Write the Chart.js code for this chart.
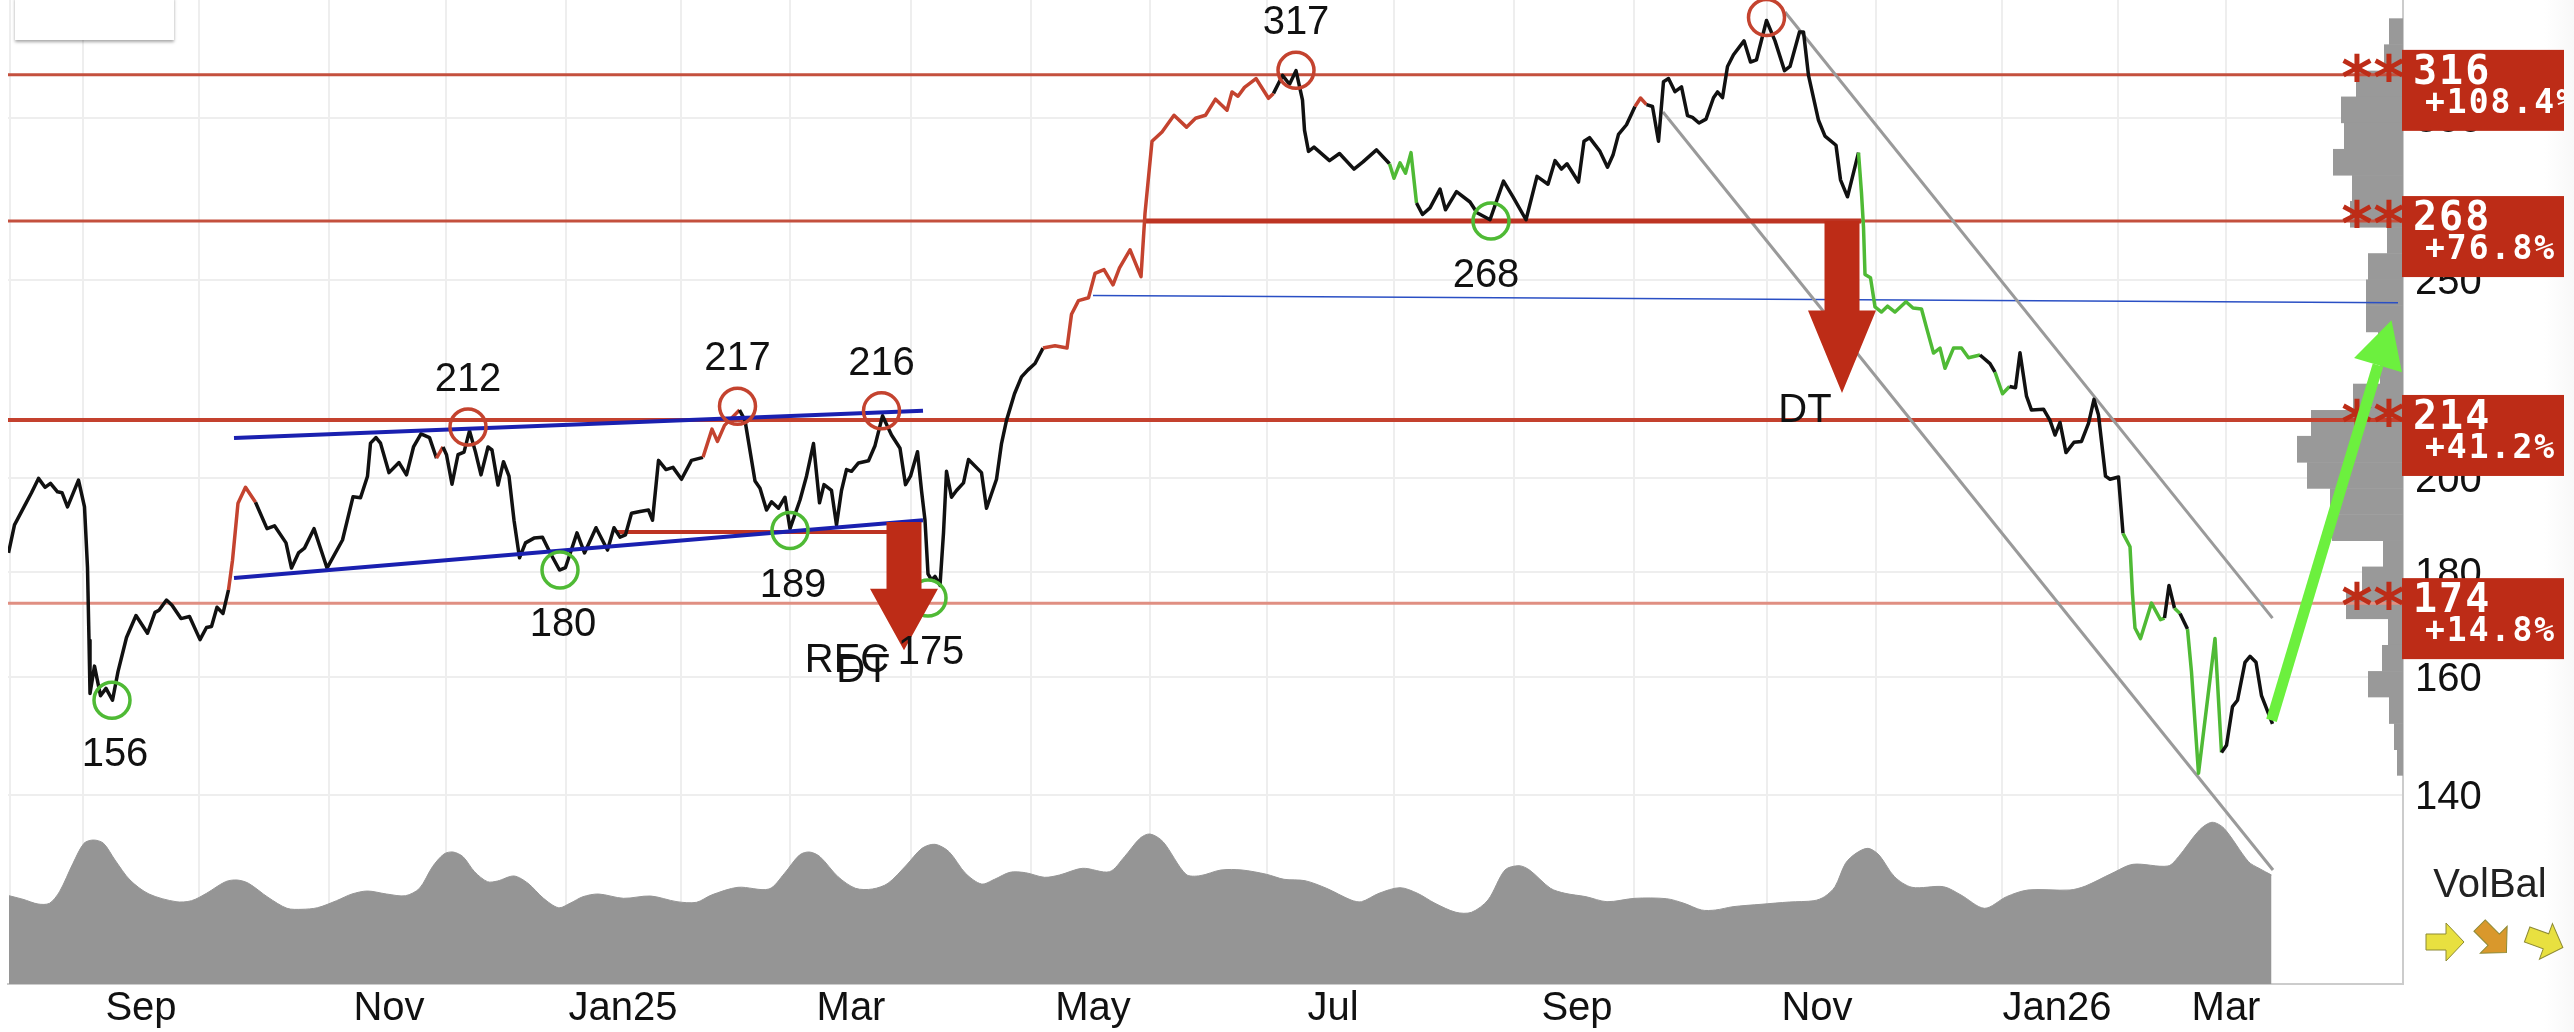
<!DOCTYPE html>
<html>
<head>
<meta charset="utf-8">
<title>Chart</title>
<script src="https://cdn.jsdelivr.net/npm/chart.js@4"></script>
<style>
    html, body { margin: 0; padding: 0; background: #fff; }
    #wrap { position: relative; width: 2574px; height: 1032px; overflow: hidden; }
    #shade { position: absolute; right: 0; top: 0; width: 30px; height: 1032px; background: linear-gradient(to right, #fff, #f8f8f8); }
    canvas { position: absolute; left: 0; top: 0; filter: blur(0.6px); }
    #infoBox { position: absolute; left: 15px; top: -3px; width: 159px; height: 43px; background: #fff; box-shadow: 0 2px 3px rgba(0,0,0,0.35); }
</style>
</head>
<body>
<div id="wrap">
    <div id="shade"></div>
    <canvas id="chart" width="2574" height="1032"></canvas>
    <div id="infoBox"></div>
</div>
<script>
// Price line, x in sessions since the left edge of the chart
const priceDays = [
    0.1, 1.3, 3.6, 4.7, 6.1, 7.4, 8.5, 9.9, 10.8, 11.9,
    14.1, 15.3, 15.9, 16.2, 16.4, 17.3, 18.5, 19.6, 20.9, 22,
    23.7, 25.6, 27.9, 29.4, 30.2, 31.7, 32.8, 34.6, 36.3, 38.4,
    39.7, 40.7, 41.8, 43, 44.1, 44.9, 46, 47.5, 49.5, 51.8,
    53.3, 55.6, 56.7, 58.1, 59.3, 61.2, 63.8, 66.9, 69, 70.5,
    71.9, 72.5, 73.6, 74.5, 76.2, 78.2, 79.7, 81.1, 82.6, 84.3,
    85.7, 87, 87.7, 88.8, 90, 91.2, 92.3, 93.5, 94.6, 96,
    96.8, 98, 99.1, 100.2, 101.2, 102.3, 103.5, 105.2, 106.9, 108.4,
    110.3, 111.5, 113.8, 115.3, 117.6, 119.9, 121.2, 122.4, 123.5, 124.7,
    126.4, 128.1, 128.9, 130.1, 131.6, 133, 134.7, 136.7, 139, 140.8,
    141.9, 143.3, 146.3, 147.4, 149.4, 150.4, 151.7, 152.7, 154.1, 155.4,
    156.4, 158.4, 159.7, 161.1, 162.3, 163.2, 164.7, 165.7, 166.7, 167.7,
    168.7, 170.1, 172.1, 173.4, 174.9, 176.7, 178.4, 179.5, 180.5, 181.9,
    182.7, 183.4, 184, 184.7, 185.4, 186.4, 187.1, 187.7, 188.7, 189.7,
    191.1, 192.1, 194.7, 195.7, 197.7, 198.7, 199.7, 201.3, 202.7, 204,
    205.4, 207, 209.4, 211.8, 212.7, 214.1, 216.1, 217.4, 219.2, 221,
    222.3, 224.4, 226.6, 227.4, 228.8, 230.8, 233.2, 235.7, 237.5, 239.5,
    241.5, 243.8, 244.8, 246, 247.3, 249.6, 252.1, 253.1, 254.9, 256.3,
    257.6, 258.9, 259.3, 260.1, 261.2, 264.3, 266.3, 269.2, 271, 273.7,
    276.3, 277.2, 278.4, 279.5, 280.6, 281.7, 282.9, 284.4, 286.4, 287.5,
    289.7, 292.4, 293.8, 296.4, 299.1, 301, 303.6, 305.8, 308, 309.4,
    310.7, 311.8, 314.1, 315.2, 316.3, 318.4, 319.9, 321, 322.1, 323.7,
    325.4, 326.5, 327.7, 328.9, 330.1, 331.1, 332.1, 333.4, 334.7, 335.9,
    336.9, 338.2, 339.6, 341.1, 341.9, 342.9, 343.9, 345.1, 347.2, 348.5,
    349.7, 351.7, 353.4, 355.3, 356.4, 358.3, 359.1, 360.1, 362.1, 363.4,
    365.6, 366.5, 367.9, 370.1, 370.7, 371.1, 371.4, 372.5, 373.4, 374.7,
    375.9, 377.4, 379.6, 381, 382.7, 383.7, 385.1, 386.4, 387.4, 389.1,
    390.7, 392.1, 394.4, 396.4, 397.4, 398.9, 400.3, 401.5, 402.4, 403.7,
    404.7, 407.1, 408.4, 409.4, 410.4, 411.6, 413.2, 414.7, 416.1, 417.2,
    418.1, 419.5, 420.4, 422.1, 423, 424.4, 424.9, 425.4, 426.5, 428.7,
    430.5, 431.3, 432.2, 433.3, 434.4, 435.9, 436.7, 438.1, 441.4, 442.7,
    443.7, 444.9, 445.9, 447.4, 448.4, 449.6, 450.7, 452.9
];
const priceValues = [
    183.9, 189.8, 194.5, 196.8, 200, 198, 198.9, 197, 196.8, 193.7,
    199.6, 193.7, 180.9, 166.7, 157, 161.9, 156.6, 157.9, 155.8, 160.9,
    167.2, 171.4, 168, 172, 172.4, 174.4, 173.4, 170.8, 171.2, 166.8,
    169.1, 169.3, 173, 171.8, 176.4, 182.4, 194.5, 198, 194.7, 189,
    189.6, 186, 180.8, 183.9, 184.9, 189, 180.8, 186.6, 195.9, 195.7,
    200.5, 208.1, 209.4, 208.1, 201.3, 203.6, 200.8, 207.2, 210.3, 209.4,
    204.6, 207.2, 205.4, 198.7, 205.4, 206, 211, 206, 200.8, 207.2,
    206.5, 198.5, 203.8, 200.5, 190.8, 182.9, 186, 187, 187.2, 184,
    180.4, 180.9, 188.1, 183.9, 189.2, 184.5, 189.2, 187.2, 187.7, 192.3,
    192.7, 193, 190.8, 204.1, 202, 202.5, 199.8, 204.1, 204.8, 211.4,
    208.5, 212.3, 216, 213.5, 199.4, 197.8, 193, 194.8, 193.4, 195.8,
    189, 195.2, 200.5, 208, 194.6, 198.6, 197.3, 189.8, 197.3, 202,
    201.6, 203.5, 204, 207.5, 214.6, 210, 206.9, 198.6, 200.5, 206.1,
    197.3, 190.8, 179.6, 178.4, 179.1, 177.3, 188.1, 201.6, 195.8, 197.3,
    199, 204.3, 201.3, 193.4, 199.8, 208, 213.5, 220, 224.2, 226,
    227.6, 231.6, 232.2, 231.6, 240.6, 244.3, 245.1, 251.9, 253, 248.7,
    253.5, 258.7, 251, 269.5, 292.3, 295.4, 301, 297, 300, 301,
    306.5, 302.7, 309, 307.5, 310.6, 313.7, 306.8, 308.5, 314.8, 311.7,
    316.5, 306.2, 296, 289, 290.4, 286, 288.3, 283.3, 285.6, 289.5,
    285, 280.4, 285.3, 282, 288.6, 272.7, 269.2, 271.2, 277, 270.6,
    276.2, 273, 269.7, 267.6, 279.5, 274.6, 267.6, 281, 278.5, 286,
    283.3, 285, 279.2, 292.3, 293.5, 289, 283.9, 287.8, 294.6, 297.8,
    304, 306.9, 304.6, 304, 292.3, 312.6, 313.7, 309.1, 310.8, 300.9,
    300.3, 298.4, 299.7, 307, 309, 307, 318, 322.2, 327.3, 319.6,
    320.4, 334.9, 327.3, 316.5, 318, 330.6, 330.6, 314.8, 299.3, 294,
    291, 279.9, 274.6, 288.6, 275.7, 265.4, 251.6, 250.7, 242.6, 241.2,
    242.8, 241.2, 244, 242.3, 242, 237, 230.3, 231.6, 226.4, 231.6,
    231.6, 229.1, 229.8, 227.6, 225.4, 220, 221.8, 221.5, 230.4, 219.4,
    216, 216.2, 213.5, 210, 213, 205.9, 208.3, 208.5, 212.8, 218.6,
    214.8, 200.5, 199.8, 200.3, 188, 185.2, 175.6, 169, 167, 173.8,
    170.6, 170.9, 177.3, 172.8, 171.8, 168.8, 160.8, 143.5, 167, 146.9,
    148.1, 154.7, 155.8, 162.6, 163.7, 162.6, 156.6, 151.7
];

// Stretches of the price line in signal colours [from, to]
const redRanges = [[44.1, 49.5], [85.7, 87], [139, 146.3], [207, 253.1], [325.4, 327.7]];
const greenRanges = [[276.3, 281.7], [370.1, 394.4], [397.4, 400.3], [423, 431.3], [433.3, 434.4], [435.9, 442.7]];

// Volume area at the bottom
const volumeDays = [
    0.2, 3, 6, 8.3, 10.3, 13, 15.2, 17.1, 19.1, 21.4, 24.4, 28.2, 33.6, 36.7, 39.7, 43.5, 45.8, 48.1, 52, 55.8,
    58.8, 61.9, 65.7, 68.8, 71.9, 75.7, 79.5, 82.3, 84.9, 87.2, 89, 91, 93.3, 95.9, 97.9, 101.2, 104, 107.1, 110.1, 112.4,
    115, 118.1, 123.1, 128.5, 133.8, 137.7, 140.7, 146, 152.2, 155.3, 158.3, 160.3, 162.4, 166, 169.5, 172.9, 176, 179.7, 182.8, 185.4,
    188.2, 191.5, 194.7, 197.3, 200.4, 203.5, 207.3, 210.3, 214.9, 220.3, 223.3, 226.4, 228.4, 231, 235.6, 238.4, 242.6, 246.8, 251.7, 255.2,
    259.4, 263.7, 268.6, 270.7, 274.2, 278.4, 281.9, 285.4, 289.6, 292.7, 296, 299.4, 302.2, 304.3, 308.5, 311.4, 315.6, 319.8, 325.4, 331.7,
    335.2, 338.7, 341.5, 345, 350.6, 356.3, 361.2, 363.3, 365.4, 367.5, 369.6, 372, 374.2, 377.3, 380.8, 387.1, 390.6, 395.3, 399.7, 404,
    412.4, 415.5, 420.8, 425, 432, 434.1, 438.3, 440.8, 443.2, 448.1, 450.2, 452.7
];
const volumeValues = [
    88.3, 84.7, 80, 80.7, 92.3, 120.7, 140.7, 144, 140.7, 124, 104, 90, 82.3, 83.3, 90.7, 102.3, 104, 100.7, 86.7, 75.7,
    74.7, 76.3, 83.3, 90, 93, 90, 88.3, 95.7, 117.3, 130, 132, 127.3, 112.3, 102.3, 103, 108, 100.7, 85.7, 76.3, 80.7,
    87.3, 90, 85.7, 88, 82.3, 81.7, 89, 96.7, 95, 110.7, 129, 132, 127.3, 107.3, 95.7, 95, 100.7, 119, 135.7, 139.7,
    132.3, 110.7, 100, 104.7, 111.7, 111.3, 106.7, 109, 115.7, 112.3, 127.3, 145.7, 150, 142.3, 109.7, 108.3, 114, 114, 109.7, 104.7,
    103.3, 95.7, 84, 82.3, 90.7, 96.3, 90.7, 80.7, 71.7, 71.7, 84, 114, 118.3, 114, 95.7, 90.7, 87.3, 82.3, 85.7, 85.3,
    80.7, 74, 74, 77.3, 79.7, 82, 83.3, 87.3, 97.3, 120.7, 130.7, 135.7, 129, 107.3, 96.7, 97.3, 89, 75.7, 87.3, 94,
    94, 98, 110.7, 119.7, 118, 127.3, 154, 161.7, 155.7, 122.3, 115.7, 109
];

// Volume profile on the right edge: price edges of the bins, one more than the bins
const profileEdges = [
    335.7, 326, 316.5, 307.4, 298.5, 289.8, 281.4, 273.3, 265.4, 257.7,
    250.2, 243, 235.9, 229.1, 222.5, 216, 209.8, 203.7, 197.8, 192.1,
    186.5, 181.1, 175.9, 170.8, 165.8, 161, 156.4, 151.8, 147.4, 143.2
];
const profileVolumes = [
    14, 19, 47, 62, 59, 70, 51, 53, 16, 35,
    37, 37, 25, 23, 50, 92, 106, 96, 73, 71,
    20, 41, 57, 15, 21, 35, 14, 9, 6
];

// Support and resistance levels
const levelValues = [315, 267.2, 213.6, 173.8];
const levelLabels = ['316', '268', '214', '174'];
const levelGains = ['+108.4%', '+76.8%', '+41.2%', '+14.8%'];

// Thick piece of the 268 level and the short break level at 189
const thickLevelDays = [227.4, 370.6];
const thickLevelValues = [267.2, 267.2];
const breakLevelDays = [121.8, 178];
const breakLevelValues = [188.3, 188.3];

// Trend lines, each [start, end]
const wedgeTopDays = [45.2, 183];
const wedgeTopValues = [209.3, 215.8];
const wedgeBottomDays = [45.2, 183];
const wedgeBottomValues = [178.8, 190.8];
const thinBlueDays = [217, 478];
const thinBlueValues = [245.7, 243.7];
const channelTopDays = [355.4, 452.9];
const channelTopValues = [338.1, 170.9];
const channelBottomDays = [331, 453];
const channelBottomValues = [302.1, 128.7];

// Circled tops and bottoms with their labels
const topDays = [92, 145.9, 174.7, 257.6, 351.7];
const topValues = [211.9, 216.9, 215.8, 316.6, 336];
const topLabels = ['212', '217', '216', '317', ''];
const bottomDays = [20.8, 110.4, 156.4, 184, 296.6];
const bottomValues = [155.8, 180.4, 188.6, 174.8, 267.2];
const bottomLabels = ['156', '180', '189', '175', '268'];
const bottomLabelDays = [21.4, 111, 157, 184.6, 295.6];

// Sell signals: arrow centre, start and tip
const sellDays = [179.2, 366.8];
const sellFrom = [190.4, 267.2];
const sellTo = [164.8, 220.2];
const signalTexts = ['REC', 'DT', 'DT'];
const signalDays = [167.8, 171, 359.4];
const signalValues = [163.5, 161.7, 216.7];

// Forecast arrow
const forecastDays = [452.7, 476.7];
const forecastValues = [152.3, 239];

// Axes
const yTickValues = [140, 160, 180, 200, 250, 300];
const monthStartDays = [0.4, 15, 38.2, 64.2, 87.6, 111.6, 134.6, 156.4, 180.6, 204.6, 228.4, 251.8, 277.2, 301.2, 325.2, 351.8, 373.6, 398.8, 422, 443.6];
const monthLabels = ['Sep', 'Nov', 'Jan25', 'Mar', 'May', 'Jul', 'Sep', 'Nov', 'Jan26', 'Mar'];
const monthLabelDays = [26.6, 76.2, 123, 168.6, 217, 265, 313.8, 361.8, 409.8, 443.6];

const RED = '#bd2c17';
const LINE_RED = '#c4432f';
const GREEN = '#4fba35';
const TEXT_FONT = '"Liberation Sans", Arial, sans-serif';

function inRanges(ranges, from, to) {
    return ranges.some(range => from >= range[0] && to <= range[1]);
}

function toPoints(days, values) {
    return days.map((day, i) => ({ x: day, y: values[i] }));
}

function lineDataset(days, values, color, width, order) {
    return {
        type: 'line',
        data: toPoints(days, values),
        borderColor: color,
        borderWidth: width,
        borderJoinStyle: 'round',
        pointRadius: 0,
        fill: false,
        tension: 0,
        order: order
    };
}

function circleDataset(days, values, color) {
    return {
        type: 'scatter',
        data: toPoints(days, values),
        pointStyle: 'circle',
        pointRadius: 18,
        pointBackgroundColor: 'transparent',
        pointBorderColor: color,
        pointBorderWidth: 3.5,
        clip: false,
        order: 3
    };
}

function levelDataset(value, color, width) {
    return lineDataset([0, 479], [value, value], color, width, 8);
}

function drawPolygon(ctx, points, color) {
    ctx.beginPath();
    points.forEach((p, i) => {
        if (i === 0) {
            ctx.moveTo(p[0], p[1]);
        } else {
            ctx.lineTo(p[0], p[1]);
        }
    });
    ctx.closePath();
    ctx.fillStyle = color;
    ctx.fill();
}

// Volume profile bars, under the lines
const profilePlugin = {
    id: 'profile',
    beforeDatasetsDraw(chart) {
        const { ctx, scales } = chart;
        ctx.save();
        ctx.fillStyle = '#999999';
        profileVolumes.forEach((volume, i) => {
            const left = scales.xProfile.getPixelForValue(volume);
            const right = scales.xProfile.getPixelForValue(0);
            const top = scales.y.getPixelForValue(profileEdges[i]);
            const bottom = scales.y.getPixelForValue(profileEdges[i + 1]);
            ctx.fillRect(left, top, right - left, bottom - top + 0.5);
        });
        ctx.restore();
    }
};

// Arrows, stars, level boxes and all free text
const overlayPlugin = {
    id: 'overlay',
    afterDraw(chart) {
        const { ctx, scales } = chart;
        const x = scales.x;
        const y = scales.y;
        ctx.save();

        // Sell arrows
        sellDays.forEach((day, i) => {
            const cx = x.getPixelForValue(day);
            const top = y.getPixelForValue(sellFrom[i]);
            const tip = y.getPixelForValue(sellTo[i]);
            const base = tip - (tip - top) * 0.48;
            drawPolygon(ctx, [
                [cx - 17.5, top], [cx + 17.5, top], [cx + 17.5, base], [cx + 34, base],
                [cx, tip], [cx - 34, base], [cx - 17.5, base]
            ], RED);
        });

        // Labels of the circled tops and bottoms
        ctx.fillStyle = '#111';
        ctx.font = '40px ' + TEXT_FONT;
        ctx.textAlign = 'center';
        ctx.textBaseline = 'middle';
        topLabels.forEach((label, i) => {
            ctx.fillText(label, x.getPixelForValue(topDays[i]), y.getPixelForValue(topValues[i]) - 47);
        });
        bottomLabels.forEach((label, i) => {
            ctx.fillText(label, x.getPixelForValue(bottomLabelDays[i]), y.getPixelForValue(bottomValues[i]) + 55);
        });
        signalTexts.forEach((text, i) => {
            ctx.fillText(text, x.getPixelForValue(signalDays[i]), y.getPixelForValue(signalValues[i]) + 4);
        });

        // Stars and red boxes per level
        levelValues.forEach((value, i) => {
            const py = y.getPixelForValue(value);
            ctx.fillStyle = RED;
            ctx.font = 'bold 60px "DejaVu Sans"';
            ctx.textAlign = 'center';
            ctx.textBaseline = 'alphabetic';
            ctx.fillText('*', 2357, py + 24);
            ctx.fillText('*', 2389, py + 24);

            ctx.fillRect(2402, py - 25, 162, 81);
            ctx.save();
            ctx.beginPath();
            ctx.rect(2402, py - 25, 162, 81);
            ctx.clip();
            ctx.fillStyle = '#fff';
            ctx.textAlign = 'left';
            ctx.letterSpacing = '2px';
            ctx.font = 'bold 40px "DejaVu Sans Mono"';
            ctx.fillText(levelLabels[i], 2413, py + 9);
            ctx.font = 'bold 33px "DejaVu Sans Mono"';
            ctx.fillText(levelGains[i], 2425, py + 38);
            ctx.restore();
        });

        // Forecast arrow
        const fx0 = x.getPixelForValue(forecastDays[0]);
        const fy0 = y.getPixelForValue(forecastValues[0]);
        const fx1 = x.getPixelForValue(forecastDays[1]);
        const fy1 = y.getPixelForValue(forecastValues[1]);
        const angle = Math.atan2(fy1 - fy0, fx1 - fx0);
        const bx = fx1 - Math.cos(angle) * 47;
        const by = fy1 - Math.sin(angle) * 47;
        ctx.strokeStyle = '#6cf03e';
        ctx.lineWidth = 11;
        ctx.beginPath();
        ctx.moveTo(fx0, fy0);
        ctx.lineTo(bx, by);
        ctx.stroke();
        drawPolygon(ctx, [
            [fx1, fy1],
            [bx - Math.sin(angle) * 25, by + Math.cos(angle) * 25],
            [bx + Math.sin(angle) * 25, by - Math.cos(angle) * 25]
        ], '#6cf03e');

        // VolBal block
        ctx.fillStyle = '#222';
        ctx.font = '40px ' + TEXT_FONT;
        ctx.textAlign = 'center';
        ctx.textBaseline = 'middle';
        ctx.fillText('VolBal', 2490, 886);
        drawVolBalArrow(ctx, 2445, 942, 0, '#e8e040');
        drawVolBalArrow(ctx, 2493, 939, 45, '#d9982c');
        drawVolBalArrow(ctx, 2545, 941, 20, '#e8e040');

        ctx.restore();
    }
};

function drawVolBalArrow(ctx, cx, cy, degrees, color) {
    const shape = [[-19, -8], [1, -8], [1, -19], [19, 0], [1, 19], [1, 8], [-19, 8]];
    ctx.save();
    ctx.translate(cx, cy);
    ctx.rotate(degrees * Math.PI / 180);
    drawPolygon(ctx, shape, color);
    ctx.strokeStyle = '#8d8a35';
    ctx.lineWidth = 1;
    ctx.stroke();
    ctx.restore();
}

function clearAxisPadding(scale) {
    scale.paddingTop = 0;
    scale.paddingBottom = 0;
    scale.paddingLeft = 0;
    scale.paddingRight = 0;
}

const priceDataset = lineDataset(priceDays, priceValues, '#111111', 3.5, 6);
priceDataset.segment = {
    borderColor(ctx) {
        const from = ctx.p0.parsed.x;
        const to = ctx.p1.parsed.x;
        if (inRanges(redRanges, from, to)) {
            return LINE_RED;
        }
        if (inRanges(greenRanges, from, to)) {
            return GREEN;
        }
        return undefined;
    }
};

const volumeDataset = lineDataset(volumeDays, volumeValues, '#959595', 1, 10);
volumeDataset.yAxisID = 'yVolume';
volumeDataset.fill = 'origin';
volumeDataset.backgroundColor = '#959595';
volumeDataset.tension = 0.3;

new Chart(document.getElementById('chart'), {
    data: {
        datasets: [
            volumeDataset,
            levelDataset(levelValues[0], '#c4503e', 3),
            levelDataset(levelValues[1], '#c4503e', 3),
            levelDataset(levelValues[2], '#c4412e', 4),
            levelDataset(levelValues[3], '#e08f82', 3),
            lineDataset(thickLevelDays, thickLevelValues, '#bd3423', 5, 7),
            lineDataset(breakLevelDays, breakLevelValues, '#bd3423', 4, 7),
            lineDataset(channelTopDays, channelTopValues, '#9a9a9a', 3, 7),
            lineDataset(channelBottomDays, channelBottomValues, '#9a9a9a', 3, 7),
            lineDataset(thinBlueDays, thinBlueValues, '#2a4fc4', 1.5, 7),
            priceDataset,
            lineDataset(wedgeTopDays, wedgeTopValues, '#1a20b0', 4, 5),
            lineDataset(wedgeBottomDays, wedgeBottomValues, '#1a20b0', 4, 5),
            circleDataset(topDays, topValues, '#c4432f'),
            circleDataset(bottomDays, bottomValues, GREEN)
        ]
    },
    plugins: [profilePlugin, overlayPlugin],
    options: {
        responsive: false,
        animation: false,
        events: [],
        layout: { autoPadding: false, padding: { left: 8, top: 0, right: 0, bottom: 0 } },
        plugins: {
            legend: { display: false },
            tooltip: { enabled: false },
            title: { display: false }
        },
        scales: {
            x: {
                type: 'linear',
                min: 0,
                max: 479,
                afterBuildTicks(scale) {
                    const all = new Set([...monthStartDays, ...monthLabelDays]);
                    scale.ticks = [...all].sort((a, b) => a - b).map(value => ({ value: value }));
                },
                afterFit(scale) {
                    scale.height = 48;
                    clearAxisPadding(scale);
                },
                ticks: {
                    autoSkip: false,
                    maxRotation: 0,
                    padding: 5,
                    color: '#111',
                    font: { family: TEXT_FONT, size: 40, lineHeight: 1 },
                    callback(value) {
                        const i = monthLabelDays.indexOf(value);
                        return i >= 0 ? monthLabels[i] : '';
                    }
                },
                grid: {
                    drawTicks: false,
                    lineWidth: 2,
                    color(ctx) {
                        return ctx.tick && monthStartDays.includes(ctx.tick.value) ? '#eeeeee' : 'transparent';
                    }
                },
                border: { color: '#cccccc', width: 2 }
            },
            xProfile: {
                type: 'linear',
                display: false,
                reverse: true,
                min: 0,
                max: 2395,
                ticks: { display: false },
                afterFit: clearAxisPadding
            },
            y: {
                type: 'logarithmic',
                position: 'right',
                min: 113.2,
                max: 342.7,
                afterBuildTicks(scale) {
                    scale.ticks = yTickValues.map(value => ({ value: value }));
                },
                afterFit(scale) {
                    scale.width = 171;
                    clearAxisPadding(scale);
                },
                ticks: {
                    padding: 12,
                    labelOffset: 3,
                    color: '#111',
                    font: { family: TEXT_FONT, size: 40 },
                    callback(value) {
                        return String(value);
                    }
                },
                grid: { drawTicks: false, lineWidth: 2, color: '#eeeeee' },
                border: { color: '#cccccc', width: 2 }
            },
            yVolume: {
                type: 'linear',
                display: false,
                min: 0,
                max: 984,
                ticks: { display: false },
                afterFit: clearAxisPadding
            }
        }
    }
});
</script>
</body>
</html>
